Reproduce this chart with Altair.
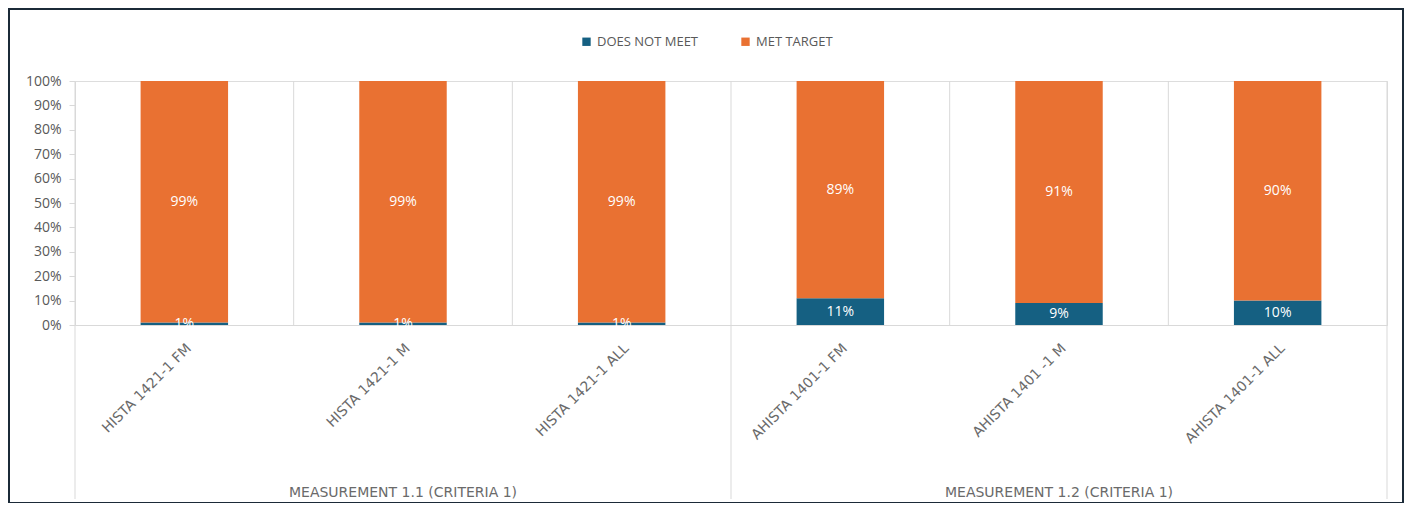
import altair as alt
import pandas as pd

categories = ["HISTA 1421-1 FM", "HISTA 1421-1 M", "HISTA 1421-1 ALL",
              "AHISTA 1401-1 FM", "AHISTA 1401 -1 M", "AHISTA 1401-1 ALL"]
does_not_meet = [1, 1, 1, 11, 9, 10]
met_target = [99, 99, 99, 89, 91, 90]
series = ["DOES NOT MEET", "MET TARGET"]
colors = ["#156082", "#E97132"]
groups = ["MEASUREMENT 1.1 (CRITERIA 1)", "MEASUREMENT 1.2 (CRITERIA 1)"]
group_centers = ["HISTA 1421-1 M", "AHISTA 1401 -1 M"]
y_ticks = [0, 10, 20, 30, 40, 50, 60, 70, 80, 90, 100]

FONT = "Open Sans"
XFONT = "DejaVu Sans"
GRAY = "#595959"
LINE = "#D9D9D9"

rows = []
for c, a, b in zip(categories, does_not_meet, met_target):
    rows.append({"cat": c, "series": series[0], "value": a, "ord": 0})
    rows.append({"cat": c, "series": series[1], "value": b, "ord": 1})
df = pd.DataFrame(rows)

xscale = alt.Scale(domain=categories, paddingInner=0, paddingOuter=0)
xaxis = alt.Axis(title=None, labelAngle=-45, labelFontSize=14, labelColor="#6a6a6a",
                 labelFont=XFONT, labelPadding=16, ticks=False, domainColor=LINE,
                 labelLimit=400, grid=False, labelOverlap=False)

yscale = alt.Scale(domain=[0, 100], nice=False)
yaxis = alt.Axis(title=None, values=y_ticks, tickCount=20,
                 labelExpr="datum.value + '%'",
                 labelFontSize=14, labelColor=GRAY, labelFont=FONT,
                 tickSize=6, tickColor=LINE, domainColor=LINE, labelPadding=8,
                 grid=False, labelOverlap=False)


def X(band=0.5):
    return alt.X("cat:N", sort=categories, scale=xscale, axis=xaxis, bandPosition=band)


bars = alt.Chart(df).mark_bar(width=alt.RelativeBandSize(0.4)).encode(
    x=X(),
    y=alt.Y("value:Q", stack="zero", scale=yscale, axis=yaxis),
    color=alt.Color("series:N", scale=alt.Scale(domain=series, range=colors),
                    legend=alt.Legend(title=None, orient="none", direction="horizontal",
                                      legendX=505, legendY=-46, symbolType="square",
                                      symbolSize=70, labelFontSize=13, labelColor=GRAY,
                                      labelFont=FONT, columnPadding=40, symbolStrokeWidth=0)),
    order=alt.Order("ord:Q"),
)

labels = alt.Chart(df).transform_stack(
    stack="value", groupby=["cat"], as_=["v0", "v1"],
    sort=[alt.SortField("ord", order="ascending")]
).transform_calculate(
    mid="(datum.v0 + datum.v1) / 2",
    txt="datum.value + '%'"
).mark_text(color="white", fontSize=14, font=FONT).encode(
    x=X(),
    y=alt.Y("mid:Q", scale=yscale, axis=yaxis),
    text="txt:N",
)

sep_short = pd.DataFrame({"cat": [categories[1], categories[2], categories[4], categories[5]]})
short_rules = alt.Chart(sep_short).mark_rule(color=LINE, strokeWidth=1).encode(
    x=X(0),
    y=alt.value(0), y2=alt.value(244),
)

sep_long = pd.DataFrame({"cat": [categories[0], categories[3]]})
long_rules = alt.Chart(sep_long).mark_rule(color=LINE, strokeWidth=1).encode(
    x=X(0),
    y=alt.value(0), y2=alt.value(418),
)
sep_end = pd.DataFrame({"cat": [categories[5]]})
end_rule = alt.Chart(sep_end).mark_rule(color=LINE, strokeWidth=1).encode(
    x=X(1),
    y=alt.value(0), y2=alt.value(418),
)

gdf = pd.DataFrame({"cat": group_centers, "label": groups})
group_text = alt.Chart(gdf).mark_text(fontSize=14, color="#6a6a6a", font=XFONT).encode(
    x=X(),
    y=alt.value(412),
    text="label:N",
)

frame = alt.Chart(pd.DataFrame({"f": [0]})).mark_rect(
    fill="transparent", stroke="#1b2a38", strokeWidth=2
).encode(x=alt.value(-66), x2=alt.value(1328), y=alt.value(-72), y2=alt.value(422))

chart = alt.layer(bars, short_rules, long_rules, end_rule, labels, group_text, frame).properties(
    width=1312, height=244,
    padding={"left": 67, "top": 73, "right": 18, "bottom": 178},
    autosize=alt.AutoSizeParams(type="none"),
).configure_view(stroke=None).configure(background="white")

chart.save("out.html", embed_options={"renderer": "svg", "actions": False})
